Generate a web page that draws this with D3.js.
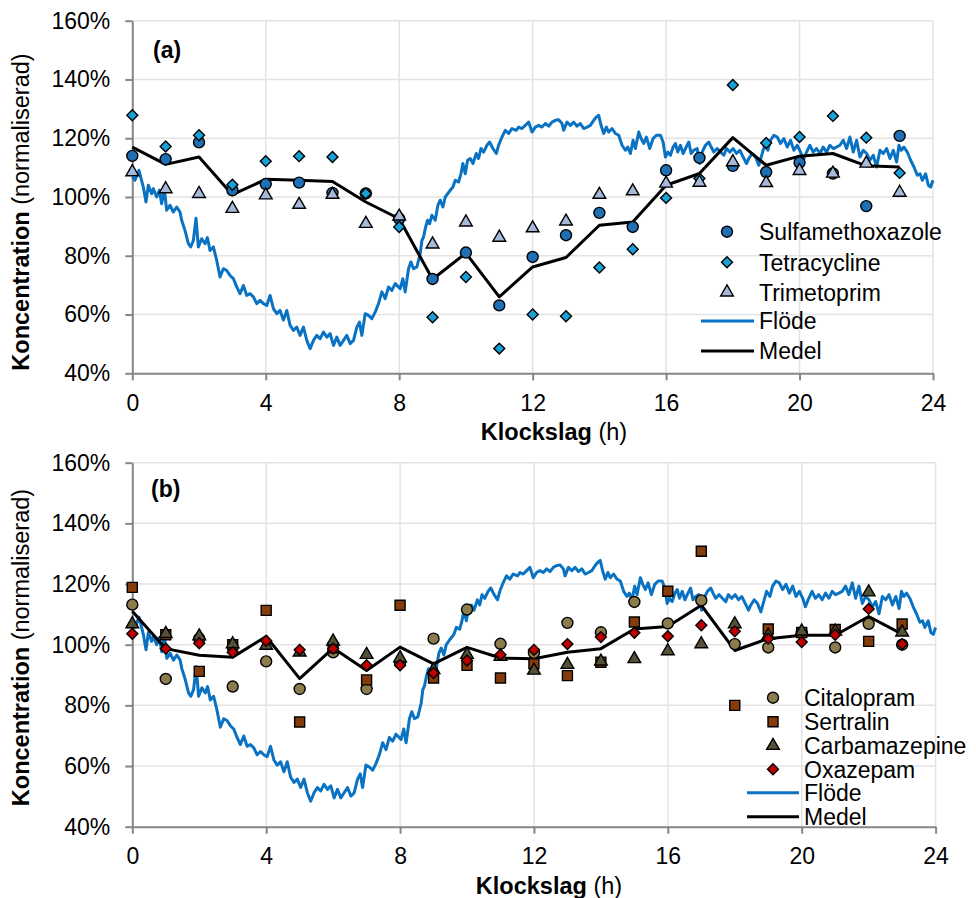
<!DOCTYPE html>
<html>
<head>
<meta charset="utf-8">
<script src="https://cdn.jsdelivr.net/npm/d3@7"></script>
<style>
  body { margin: 0; background: #fff; }
  svg { display: block; font-family: "Liberation Sans", Arial, sans-serif; }
</style>
</head>
<body>
<div id="chart"></div>
<script>
(() => {
  // ---- data ----
  const hours = d3.range(0, 24);
  const xTicks = [0, 4, 8, 12, 16, 20, 24];
  const yTicks = [40, 60, 80, 100, 120, 140, 160];

  // panel (a)
  const sulfamethoxazole = [114.0, 112.9, 118.6, 102.3, 104.4, 104.9, 101.4, 101.2, 92.6, 72.1, 81.1, 63.1, 79.6, 87.0, 94.6, 89.8, 109.1, 113.3, 110.6, 108.5, 111.7, 108.0, 96.9, 120.8];
  const tetracycline = [127.8, 117.2, 121.0, 104.2, 112.2, 113.9, 113.6, 101.2, 89.8, 59.1, 72.8, 48.4, 60.0, 59.4, 76.0, 82.2, 99.7, 106.3, 138.1, 118.4, 120.4, 127.6, 120.2, 108.2];
  const trimetoprim = [108.5, 102.7, 101.1, 96.0, 100.6, 97.4, 100.8, 90.9, 93.4, 83.9, 91.4, 86.2, 89.4, 91.7, 100.8, 102.0, 104.6, 104.9, 111.9, 104.8, 108.9, 108.0, 111.4, 101.5];
  const medelA = [117.0, 111.1, 113.6, 100.8, 106.0, 105.7, 105.3, 98.3, 92.6, 72.0, 80.9, 66.0, 76.2, 79.4, 90.4, 91.5, 104.0, 108.0, 120.2, 110.8, 113.9, 114.8, 110.6, 110.2];

  // panel (b)
  const citalopram = [113.2, 88.7, 102.0, 86.2, 94.5, 85.4, 97.5, 85.4, 94.0, 102.0, 111.6, 100.3, 97.3, 107.2, 104.1, 114.1, 107.0, 114.6, 100.2, 99.1, 103.9, 99.1, 106.9, 100.0];
  const sertralin = [118.9, 103.3, 91.2, 100.0, 111.3, 74.5, 99.0, 88.4, 113.0, 89.0, 93.2, 89.0, 93.7, 89.8, 94.2, 107.5, 117.6, 130.8, 80.0, 105.2, 104.0, 105.0, 101.1, 106.8];
  const carbamazepine = [106.8, 103.6, 102.8, 100.2, 99.7, 97.5, 101.1, 96.7, 95.6, 91.7, 96.7, 96.1, 91.5, 93.4, 94.5, 95.3, 97.9, 100.2, 106.8, 103.0, 104.4, 104.4, 117.3, 104.1];
  const oxazepam = [103.6, 98.7, 100.5, 97.5, 101.3, 98.3, 98.7, 93.2, 93.2, 90.7, 94.8, 96.7, 98.3, 100.2, 102.5, 103.9, 102.8, 106.4, 104.4, 102.0, 100.9, 103.3, 111.8, 100.2];
  const medelB = [111.0, 98.7, 96.5, 95.9, 102.7, 88.8, 98.9, 91.5, 99.2, 93.7, 99.1, 95.6, 95.4, 97.5, 98.7, 105.2, 106.0, 113.0, 98.1, 102.0, 103.1, 103.1, 109.3, 103.5];

  // flow (same in both panels)
  const flodeHours = [
    0.00, 0.08, 0.20, 0.33, 0.41, 0.48, 0.58, 0.63, 0.73, 0.81, 0.88, 0.96, 1.03, 1.13, 1.23, 1.33, 1.43, 1.48, 1.58, 1.68,
    1.75, 1.83, 1.91, 1.98, 2.08, 2.18, 2.25, 2.33, 2.43, 2.53, 2.63, 2.73, 2.83, 2.93, 3.03, 3.13, 3.23, 3.33, 3.43, 3.53,
    3.63, 3.73, 3.83, 3.93, 4.03, 4.13, 4.23, 4.33, 4.43, 4.53, 4.63, 4.73, 4.83, 4.93, 5.03, 5.13, 5.23, 5.33, 5.43, 5.53,
    5.63, 5.73, 5.83, 5.93, 6.03, 6.13, 6.23, 6.33, 6.43, 6.53, 6.63, 6.73, 6.81, 6.88, 6.98, 7.08, 7.18, 7.28, 7.38, 7.48,
    7.58, 7.68, 7.78, 7.88, 8.03, 8.11, 8.18, 8.28, 8.35, 8.43, 8.53, 8.63, 8.68, 8.73, 8.78, 8.85, 8.91, 8.98, 9.08, 9.16,
    9.23, 9.31, 9.38, 9.45, 9.53, 9.61, 9.68, 9.78, 9.85, 9.91, 9.98, 10.05, 10.13, 10.21, 10.31, 10.38, 10.45, 10.53, 10.63, 10.71,
    10.81, 10.91, 10.98, 11.08, 11.18, 11.28, 11.38, 11.51, 11.58, 11.68, 11.78, 11.88, 11.98, 12.08, 12.18, 12.28, 12.38, 12.48, 12.58, 12.68,
    12.78, 12.88, 12.93, 13.03, 13.13, 13.23, 13.33, 13.43, 13.53, 13.63, 13.73, 13.83, 13.91, 13.98, 14.05, 14.13, 14.21, 14.28, 14.38, 14.48,
    14.58, 14.68, 14.78, 14.85, 14.93, 15.01, 15.08, 15.18, 15.25, 15.33, 15.41, 15.51, 15.61, 15.71, 15.83, 15.91, 15.98, 16.05, 16.13, 16.21,
    16.28, 16.35, 16.43, 16.51, 16.58, 16.68, 16.75, 16.83, 16.93, 17.01, 17.08, 17.18, 17.28, 17.35, 17.43, 17.53, 17.63, 17.73, 17.81, 17.91,
    18.01, 18.11, 18.21, 18.31, 18.41, 18.48, 18.58, 18.68, 18.78, 18.85, 18.95, 19.05, 19.13, 19.23, 19.33, 19.43, 19.53, 19.63, 19.73, 19.83,
    19.93, 20.03, 20.11, 20.21, 20.31, 20.41, 20.51, 20.61, 20.71, 20.81, 20.91, 21.01, 21.11, 21.21, 21.31, 21.41, 21.51, 21.61, 21.71, 21.81,
    21.91, 22.01, 22.11, 22.21, 22.31, 22.41, 22.51, 22.61, 22.71, 22.81, 22.91, 22.98, 23.05, 23.13, 23.23, 23.33, 23.43, 23.53, 23.61, 23.68,
    23.78, 23.86, 23.93, 24.00
  ];
  const flodeValues = [
    106.8, 105.7, 109.1, 103.4, 98.3, 104.0, 101.1, 102.8, 100.0, 102.3, 97.7, 102.8, 95.5, 97.2, 94.9, 96.6, 94.9, 92.1, 88.6, 84.1,
    83.0, 85.2, 92.8, 83.0, 85.8, 84.1, 86.2, 81.8, 83.0, 78.4, 72.8, 75.6, 75.0, 73.3, 72.2, 69.4, 67.1, 69.9, 66.5, 67.1,
    66.0, 63.7, 64.8, 63.7, 63.1, 66.5, 62.0, 60.3, 61.4, 58.1, 61.4, 56.3, 54.6, 55.7, 52.9, 55.7, 51.2, 48.4, 51.2, 52.9,
    51.8, 54.0, 52.3, 53.5, 49.5, 52.3, 49.5, 51.2, 52.9, 50.1, 51.2, 55.7, 57.4, 52.9, 60.3, 59.7, 58.6, 60.8, 63.7, 67.7,
    65.4, 69.4, 68.2, 70.5, 68.8, 72.2, 67.7, 75.6, 77.9, 75.6, 76.2, 80.7, 85.2, 86.4, 89.2, 92.1, 90.9, 93.8, 92.1, 97.2,
    98.9, 96.6, 100.0, 101.1, 102.3, 103.4, 105.7, 105.1, 107.9, 111.4, 107.9, 112.5, 113.1, 111.4, 114.8, 113.1, 116.5, 115.3, 117.6, 118.7,
    116.5, 114.8, 117.6, 120.4, 122.7, 121.6, 123.3, 122.7, 123.8, 123.3, 124.4, 125.5, 122.1, 123.8, 124.4, 123.8, 125.0, 124.1, 125.5, 126.1,
    126.3, 125.0, 122.7, 125.5, 124.4, 125.5, 124.1, 125.0, 123.3, 123.8, 124.4, 126.1, 127.2, 127.8, 124.4, 121.6, 123.8, 122.1, 123.3, 121.6,
    121.0, 117.6, 115.9, 117.0, 114.8, 119.3, 116.5, 122.1, 119.9, 118.2, 120.4, 116.5, 119.9, 121.0, 121.0, 118.7, 113.6, 115.3, 114.2, 117.0,
    118.2, 115.3, 117.6, 114.8, 116.5, 118.7, 114.8, 115.9, 116.5, 111.4, 115.3, 117.6, 118.7, 117.0, 115.3, 116.5, 115.3, 114.2, 116.5, 115.3,
    116.5, 114.8, 115.9, 113.6, 111.4, 113.1, 114.8, 113.6, 110.8, 113.6, 117.6, 115.9, 119.3, 121.0, 120.4, 118.2, 119.9, 117.0, 119.3, 115.9,
    117.6, 115.3, 112.5, 115.3, 117.6, 115.3, 116.5, 114.8, 117.0, 115.3, 117.6, 116.5, 117.0, 117.6, 119.3, 116.5, 120.4, 115.3, 119.3, 113.6,
    115.9, 114.8, 112.5, 114.2, 110.2, 115.9, 114.8, 116.5, 113.1, 115.9, 111.9, 117.6, 115.9, 117.0, 115.3, 112.5, 110.2, 107.4, 107.9, 105.7,
    107.9, 104.0, 103.4, 105.7
  ];

  const flode = flodeHours.map((h, i) => ({ h: h, v: flodeValues[i] }));

  // ---- layout ----
  const W = 976, H = 898;
  const font = 23;
  const gridColor = "#e3e3e3";
  const axisColor = "#868686";

  const svg = d3.select("#chart").append("svg")
    .attr("width", W)
    .attr("height", H);

  const panels = [
    {
      label: "(a)", labelX: 153, labelY: 50,
      x0: 132.3, x1: 933, yTop: 20.7, yBot: 373.3,
      yTitleY: 212, xTitleX: 554, xTitleY: 440,
      series: [
        { name: "Sulfamethoxazole", values: sulfamethoxazole, shape: "circle", fill: "#1f6fb5" },
        { name: "Tetracycline", values: tetracycline, shape: "diamond", fill: "#18a0d8" },
        { name: "Trimetoprim", values: trimetoprim, shape: "triangle", fill: "#a7b9d9" }
      ],
      medel: medelA,
      legend: { mx: 727, tx: 759, lx0: 701, lx1: 754, rows: [231.7, 262.3, 292.3, 321, 351] }
    },
    {
      label: "(b)", labelX: 151, labelY: 488.3,
      x0: 132.3, x1: 935.6, yTop: 462.7, yBot: 826.7,
      yTitleY: 647.5, xTitleX: 549, xTitleY: 894,
      series: [
        { name: "Citalopram", values: citalopram, shape: "circle", fill: "#8b7b4d" },
        { name: "Sertralin", values: sertralin, shape: "square", fill: "#843c0c" },
        { name: "Carbamazepine", values: carbamazepine, shape: "triangle", fill: "#545137" },
        { name: "Oxazepam", values: oxazepam, shape: "diamond", fill: "#c00000" }
      ],
      medel: medelB,
      legend: { mx: 773, tx: 804, lx0: 747, lx1: 799, rows: [697.7, 721.7, 745.7, 769.3, 792.7, 816.7] }
    }
  ];

  const symbolFor = shape => {
    if (shape === "circle") return d3.symbol().type(d3.symbolCircle).size(95)();
    if (shape === "square") return d3.symbol().type(d3.symbolSquare).size(100)();
    if (shape === "triangle") return d3.symbol().type(d3.symbolTriangle).size(70)();
    return d3.symbol().type(d3.symbolSquare).size(60)(); // rotated -> diamond
  };

  panels.forEach(p => {
    const x = d3.scaleLinear().domain([0, 24]).range([p.x0, p.x1]);
    const y = d3.scaleLinear().domain([40, 160]).range([p.yBot, p.yTop]);

    const g = svg.append("g");

    // gridlines
    g.append("g").selectAll("line.h")
      .data(yTicks.filter(d => d > 40))
      .enter().append("line")
      .attr("x1", p.x0).attr("x2", p.x1)
      .attr("y1", d => y(d)).attr("y2", d => y(d))
      .attr("stroke", gridColor).attr("stroke-width", 1.5);

    g.append("g").selectAll("line.v")
      .data(xTicks.filter(d => d > 0))
      .enter().append("line")
      .attr("x1", d => x(d)).attr("x2", d => x(d))
      .attr("y1", p.yTop).attr("y2", p.yBot)
      .attr("stroke", gridColor).attr("stroke-width", 1.5);

    // axes
    const yAxis = g.append("g")
      .attr("transform", `translate(${p.x0},0)`)
      .call(d3.axisLeft(y).tickValues(yTicks).tickFormat(d => d + "%").tickSize(7).tickSizeOuter(0).tickPadding(15));

    const xAxis = g.append("g")
      .attr("transform", `translate(0,${p.yBot})`)
      .call(d3.axisBottom(x).tickValues(xTicks).tickFormat(d3.format("d")).tickSize(7).tickSizeOuter(0).tickPadding(14));

    [yAxis, xAxis].forEach(a => {
      a.select(".domain").attr("stroke", axisColor).attr("stroke-width", 2);
      a.selectAll(".tick line").attr("stroke", axisColor).attr("stroke-width", 2);
      a.selectAll(".tick text")
        .attr("fill", "#000")
        .style("font-size", font + "px")
        .style("font-family", "'Liberation Sans', Arial, sans-serif");
    });

    // flow line
    const line = d3.line().x(d => x(d.h)).y(d => y(d.v));
    g.append("path")
      .datum(flode)
      .attr("d", line)
      .attr("fill", "none")
      .attr("stroke", "#0a72c2")
      .attr("stroke-width", 3)
      .attr("stroke-linejoin", "round");

    // mean line
    g.append("path")
      .datum(hours.map((h, i) => ({ h: h, v: p.medel[i] })))
      .attr("d", line)
      .attr("fill", "none")
      .attr("stroke", "#000")
      .attr("stroke-width", 3)
      .attr("stroke-linejoin", "round");

    // markers
    p.series.forEach(s => {
      g.append("g").selectAll("path")
        .data(s.values)
        .enter().append("path")
        .attr("d", symbolFor(s.shape))
        .attr("transform", (d, i) => `translate(${x(hours[i])},${y(d)})` + (s.shape === "diamond" ? " rotate(45)" : ""))
        .attr("fill", s.fill)
        .attr("stroke", "#000")
        .attr("stroke-width", 1.4);
    });

    // panel label
    g.append("text")
      .attr("x", p.labelX).attr("y", p.labelY)
      .attr("dy", "0.36em")
      .style("font-size", font + "px")
      .style("font-weight", "bold")
      .text(p.label);

    // y title
    const yt = g.append("text")
      .attr("transform", `translate(29,${p.yTitleY}) rotate(-90)`)
      .attr("text-anchor", "middle")
      .style("font-size", "23.5px");
    yt.append("tspan").style("font-weight", "bold").text("Koncentration");
    yt.append("tspan").text(" (normaliserad)");

    // x title
    const xt = g.append("text")
      .attr("x", p.xTitleX).attr("y", p.xTitleY)
      .attr("text-anchor", "middle")
      .style("font-size", "23.5px");
    xt.append("tspan").style("font-weight", "bold").text("Klockslag");
    xt.append("tspan").text(" (h)");

    // legend
    const L = p.legend;
    const entries = p.series.map(s => ({ name: s.name, s: s }))
      .concat([{ name: "Flöde", color: "#0a72c2" }, { name: "Medel", color: "#000" }]);

    entries.forEach((e, i) => {
      const ry = L.rows[i];
      if (e.s) {
        g.append("path")
          .attr("d", symbolFor(e.s.shape))
          .attr("transform", `translate(${L.mx},${ry})` + (e.s.shape === "diamond" ? " rotate(45)" : ""))
          .attr("fill", e.s.fill)
          .attr("stroke", "#000")
          .attr("stroke-width", 1.4);
      } else {
        g.append("line")
          .attr("x1", L.lx0).attr("x2", L.lx1)
          .attr("y1", ry).attr("y2", ry)
          .attr("stroke", e.color)
          .attr("stroke-width", 3);
      }
      g.append("text")
        .attr("x", L.tx).attr("y", ry)
        .attr("dy", "0.36em")
        .style("font-size", font + "px")
        .text(e.name);
    });
  });
})();
</script>
</body>
</html>
